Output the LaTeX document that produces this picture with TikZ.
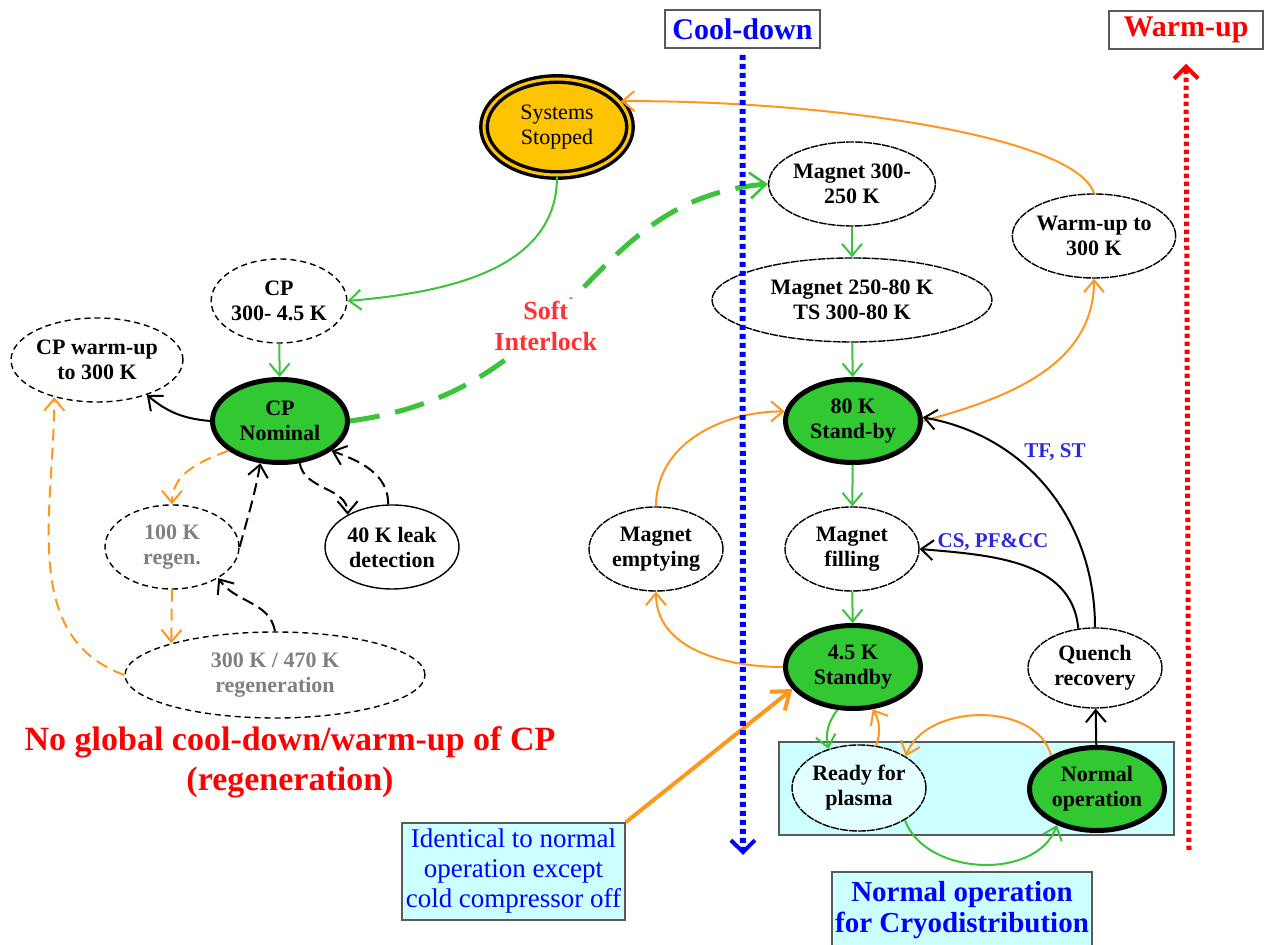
\documentclass[tikz,border=0pt]{standalone}
\usepackage{fontspec}
\setmainfont{Liberation Serif}
\usetikzlibrary{shapes}
\usetikzlibrary{arrows.meta}

\definecolor{vertfond}{RGB}{50,200,50}
\definecolor{vertfleche}{RGB}{60,195,60}
\definecolor{orangef}{RGB}{255,150,30}
\definecolor{jaune}{RGB}{255,196,0}
\definecolor{cyanclair}{RGB}{204,255,255}
\definecolor{cyanpale}{RGB}{228,255,255}
\definecolor{grisbord}{RGB}{90,90,90}
\definecolor{gristexte}{RGB}{128,128,128}
\definecolor{bleu}{RGB}{0,0,255}
\definecolor{bleutexte}{RGB}{40,40,220}
\definecolor{rouge}{RGB}{255,0,0}
\definecolor{rougeclair}{RGB}{255,50,50}

\tikzstyle{etat}=[
        ellipse,
        draw,
        line width=0.7pt,
        dash pattern=on 4pt off 0.5pt,
        inner sep=0pt,
        minimum width=67pt,
        minimum height=42pt,
        align=center,
        font=\bfseries\fontsize{11}{12.5}\selectfont
]
\tikzstyle{etatcp}=[etat,dash pattern=on 3pt off 2pt]
\tikzstyle{regen}=[etatcp,text=gristexte]
\tikzstyle{nominal}=[etat,solid,fill=vertfond,line width=2.5pt,minimum width=67.5pt,minimum height=41.5pt]
\tikzstyle{arret}=[
        ellipse,
        draw,
        line width=1.7pt,
        double=jaune,
        double distance=1.5pt,
        fill=jaune,
        minimum width=73pt,
        minimum height=48pt,
        inner sep=0pt,
        align=center,
        font=\fontsize{11}{12.5}\selectfont
]
\tikzstyle{cadre}=[rectangle,draw=grisbord,line width=0.8pt,inner sep=0pt,align=center]
\tikzstyle{suite}=[->,line width=1pt]
\tikzstyle{suiteverte}=[suite,draw=vertfleche]
\tikzstyle{suiteorange}=[suite,draw=orangef]
\tikzstyle{suitetiret}=[suite,dash pattern=on 6pt off 3pt]
\tikzstyle{suiteorangetiret}=[suiteorange,dash pattern=on 6pt off 3.5pt]
\tikzstyle{descente}=[draw=bleu,line width=3pt,dash pattern=on 2.5pt off 2pt,
        -{Straight Barb[length=6pt,width=12pt,line width=2pt]},shorten <=3pt]
\tikzstyle{montee}=[draw=rouge,line width=2.5pt,dash pattern=on 2.2pt off 1.8pt,
        -{Straight Barb[length=6pt,width=12pt,line width=2pt]},shorten >=7pt]

\begin{document}
\begin{tikzpicture}[x=50pt,y=50pt,>={Straight Barb[length=6pt,width=10pt]}]
\useasboundingbox (0,0) rectangle (12.66,-9.45);
% en-tetes
\node[cadre,minimum width=77.5pt,minimum height=19pt,text=bleu,font=\bfseries\fontsize{15}{17}\selectfont] (coolbox) at (7.425,-0.29) {Cool-down};
\node[cadre,minimum width=77pt,minimum height=19pt,text=rouge,font=\bfseries\fontsize{15}{17}\selectfont] (warmbox) at (11.86,-0.30) {Warm-up};
\coordinate (finfroid) at (7.43,-8.55);
\coordinate (debutchaud) at (11.89,-8.50);
% zone normale
\node[cadre,fill=cyanclair,minimum width=197.5pt,minimum height=46.5pt] (zone) at (9.765,-7.885) {};
\node[cadre,fill=cyanclair,minimum width=130pt,minimum height=38pt,text=bleu,font=\bfseries\fontsize{14.5}{15.5}\selectfont] (cryo) at (9.62,-9.10) {Normal operation\\for Cryodistribution};
\node[cadre,fill=cyanclair,minimum width=111.5pt,minimum height=48.5pt,text=bleu,font=\fontsize{13.5}{15}\selectfont] (ident) at (5.135,-8.715) {Identical to normal\\operation except\\cold compressor off};
% partie CP
\node[arret] (stop) at (5.57,-1.27) {Systems\\Stopped};
\node[etatcp] (cpcool) at (2.79,-3.01) {CP\\300- 4.5 K};
\node[etatcp] (cpwarm) at (0.97,-3.60) {CP warm-up\\to 300 K};
\node[nominal] (cpnom) at (2.80,-4.21) {CP\\Nominal};
\node[regen] (cpregen) at (1.72,-5.47) {100 K\\regen.};
\node[etat,solid] (leak) at (3.92,-5.47) {40 K leak\\detection};
\node[regen,minimum width=150pt,minimum height=43pt] (cpregenb) at (2.75,-6.75) {300 K / 470 K\\regeneration};
\node[text=rouge,font=\bfseries\fontsize{17}{20}\selectfont,align=center] (legende) at (2.90,-7.62) {No global cool-down/warm-up of CP\\(regeneration)};
% partie aimants
\node[etat] (m300) at (8.52,-1.84) {Magnet 300-\\250 K};
\node[etat,minimum width=140pt] (m250) at (8.52,-3.00) {Magnet 250-80 K\\TS 300-80 K};
\node[nominal] (sb80) at (8.53,-4.21) {80 K\\Stand-by};
\node[etat] (remplir) at (8.52,-5.49) {Magnet\\filling};
\node[etat] (vider) at (6.56,-5.49) {Magnet\\emptying};
\node[nominal] (sb45) at (8.53,-6.67) {4.5 K\\Standby};
\node[etat] (warm) at (10.94,-2.36) {Warm-up to\\300 K};
\node[etat,minimum height=40pt] (quench) at (10.95,-6.68) {Quench\\recovery};
\node[etat,fill=cyanpale,minimum height=43pt] (ready) at (8.59,-7.88) {Ready for\\plasma};
\node[nominal] (normal) at (10.97,-7.89) {Normal\\operation};
\node[text=bleutexte,font=\bfseries\fontsize{10.5}{12}\selectfont] (tfst) at (10.55,-4.52) {TF, ST};
\node[text=bleutexte,font=\bfseries\fontsize{10.5}{12}\selectfont] (cspf) at (9.93,-5.42) {CS, PF\&CC};
% liaisons CP
\draw[suiteverte] (stop.south) to[out=-90,in=5] (cpcool.east);
\draw[suiteverte] (cpcool) -- (cpnom);
\draw[draw=vertfleche,line width=2.5pt,dash pattern=on 15pt off 8pt,-{Straight Barb[length=8pt,width=13pt,line width=1.3pt]}]
  (cpnom.east) .. controls (5.8,-3.9) and (5.8,-2.0) .. (m300.west)
  node[pos=0.41,fill=white,text=rougeclair,font=\bfseries\fontsize{13}{15.5}\selectfont,align=center,inner sep=1pt] (verrou) {Soft\\Interlock};
\draw[suite] (cpnom.west) to[out=175,in=-40] (cpwarm.-35);
\draw[suiteorangetiret] (cpnom.-150) to[out=200,in=90] (cpregen.north);
\draw[suitetiret] (cpregen.east) to[out=75,in=-100] (cpnom.-115);
\draw[suitetiret] (cpnom.-65) to[out=-80,in=90] (leak.144);
\draw[suitetiret] (leak.95) to[out=90,in=-20] (cpnom.-30);
\draw[suiteorangetiret] (cpregen.south) -- (cpregenb.163);
\draw[suitetiret] (cpregenb.north) to[out=100,in=-55] (cpregen.-34);
\draw[suiteorangetiret] (cpregenb.west) to[out=160,in=-90] (cpwarm.-139);
% liaisons aimants
\draw[suiteverte] (m300) -- (m250);
\draw[suiteverte] (m250) -- (sb80);
\draw[suiteverte] (sb80) -- (remplir);
\draw[suiteverte] (remplir) -- (sb45);
\draw[suiteorange] (warm.north) .. controls (10.75,-1.35) and (8.2,-1.0) .. (stop.22);
\draw[suiteorange] (sb80.east) to[out=15,in=-90] (warm.south);
\draw[suiteorange] (vider.north) to[out=90,in=180] (sb80.172);
\draw[suiteorange] (sb45.west) to[out=180,in=-90] (vider.south);
\draw[suite] (quench.113) to[out=95,in=-5] (remplir.east);
\draw[suite] (quench.north) to[out=90,in=-10] (sb80.3);
\draw[suite] (normal) -- (quench);
\draw[suiteverte] (sb45.-110) to[bend right=25] (ready.128);
\draw[suiteorange] (ready.68) to[bend right=25] (sb45.-65);
\draw[suiteorange] (normal.144) to[out=105,in=70] (ready.34);
\draw[suiteverte] (ready.-35) to[out=-70,in=-110] (normal.-138);
\draw[orangef,line width=2pt,-{Straight Barb[length=8pt,width=12pt]}] (ident.north east) -- (sb45.200);
% fleches cool-down / warm-up
\draw[descente] (coolbox.south) -- (finfroid);
\draw[montee] (debutchaud) -- (warmbox.south);
\end{tikzpicture}
\end{document}
